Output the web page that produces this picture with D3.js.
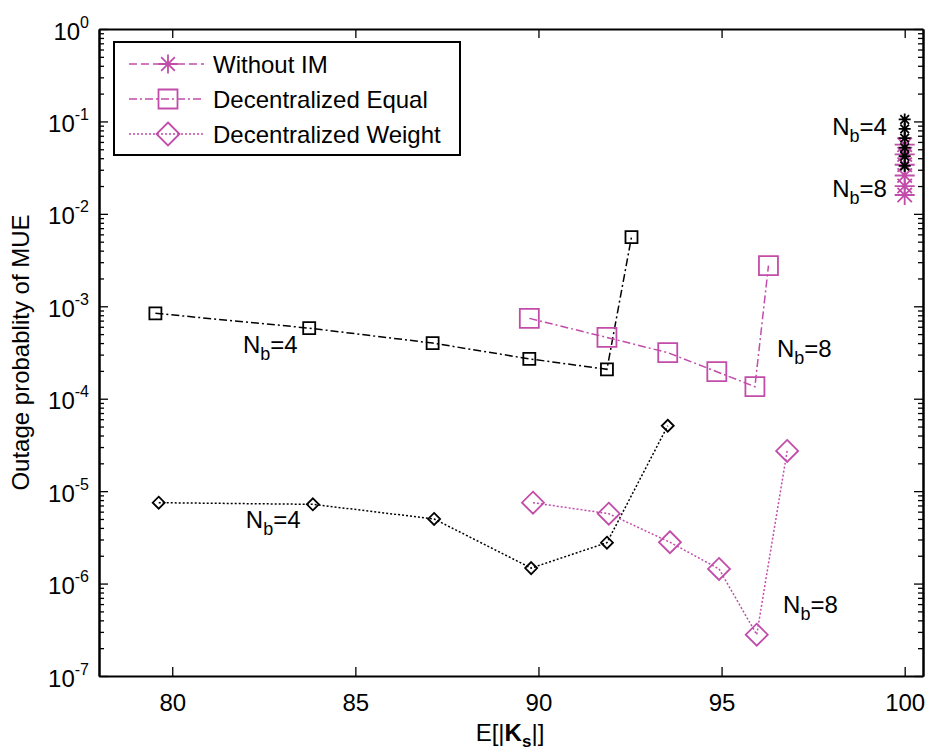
<!DOCTYPE html>
<html><head><meta charset="utf-8">
<script src="https://cdn.jsdelivr.net/npm/d3@7"></script>
<style>
body{margin:0;background:#fff;}
text{font-family:"Liberation Sans",Arial,sans-serif;}
</style></head>
<body><svg id="c" width="927" height="755"></svg>
<script>
// ---- data ----
const xTicks = [80, 85, 90, 95, 100];
const yExponents = [0, -1, -2, -3, -4, -5, -6, -7];
const seriesNames = ["Without IM", "Decentralized Equal", "Decentralized Weight"];

const equalNb4X = [79.54, 83.74, 87.11, 89.75, 91.87, 92.54];
const equalNb4Y = [8.4e-4, 5.8e-4, 4.0e-4, 2.7e-4, 2.08e-4, 5.6e-3];
const equalNb8X = [89.75, 91.87, 93.53, 94.87, 95.91, 96.28];
const equalNb8Y = [7.4e-4, 4.6e-4, 3.15e-4, 1.96e-4, 1.35e-4, 2.75e-3];

const weightNb4X = [79.63, 83.84, 87.15, 89.80, 91.87, 93.53];
const weightNb4Y = [7.5e-6, 7.2e-6, 5.0e-6, 1.47e-6, 2.77e-6, 5.1e-5];
const weightNb8X = [89.85, 91.92, 93.59, 94.93, 95.96, 96.79];
const weightNb8Y = [7.5e-6, 5.7e-6, 2.8e-6, 1.44e-6, 2.8e-7, 2.72e-5];

const noImNb4X = [100, 100, 100, 100, 100, 100];
const noImNb4Y = [0.105, 0.083, 0.066, 0.052, 0.042, 0.033];
const noImNb8X = [100, 100, 100, 100, 100, 100];
const noImNb8Y = [0.056, 0.044, 0.034, 0.026, 0.020, 0.016];

const annotations = [
  {nb: "4", x: 81.93, y: 3.1e-4},
  {nb: "8", x: 96.51, y: 2.83e-4},
  {nb: "4", x: 82.01, y: 4.0e-6},
  {nb: "8", x: 96.68, y: 4.8e-7},
  {nb: "4", x: 98.02, y: 0.0713},
  {nb: "8", x: 98.02, y: 0.0152}
];

// ---- layout ----
const MAG = "#c24ca9";
const L = 99, R = 923, T = 29, B = 676;
const svg = d3.select("#c");
const x = d3.scaleLinear().domain([78, 100.5]).range([L, R]);
const y = d3.scaleLog().domain([1e-7, 1]).range([B, T]);

const FS = 24;

// marker paths
function markerPath(type, s) {
  const h = s / 2;
  if (type === "square") return `M${-h},${-h}H${h}V${h}H${-h}Z`;
  if (type === "diamond") return `M0,${-h}L${h},0L0,${h}L${-h},0Z`;
  const d = h * 0.72;
  return `M${-h},0H${h}M0,${-h}V${h}M${-d},${-d}L${d},${d}M${-d},${d}L${d},${-d}`;
}

const dashes = {star: "8,4", square: "8,3,2,3", diamond: "2,2"};

function drawSeries(xs, ys, type, color, size) {
  const pts = xs.map((v, i) => [v, ys[i]]);
  const line = d3.line().x(d => x(d[0])).y(d => y(d[1]));
  svg.append("path").attr("d", line(pts)).attr("fill", "none")
    .attr("stroke", color).attr("stroke-width", 1.5)
    .attr("stroke-dasharray", dashes[type]);
  svg.selectAll(null).data(pts).enter().append("path")
    .attr("transform", d => `translate(${x(d[0])},${y(d[1])})`)
    .attr("d", markerPath(type, size))
    .attr("fill", "none").attr("stroke", color).attr("stroke-width", 1.8);
}

// ---- axes ----
const minorVals = [];
for (let e = -7; e < 0; e++) for (let m = 2; m <= 9; m++) minorVals.push(m * Math.pow(10, e));
const majorVals = yExponents.map(e => Math.pow(10, e));

function styleAxis(g) {
  g.selectAll("path.domain").attr("stroke", "#000").attr("stroke-width", 2);
  g.selectAll(".tick line").attr("stroke", "#000").attr("stroke-width", 1.3);
}

const gB = svg.append("g").attr("transform", `translate(0,${B})`)
  .call(d3.axisBottom(x).tickValues(xTicks).tickSizeInner(-9).tickSizeOuter(0).tickPadding(18).tickFormat(d3.format("d")));
styleAxis(gB);
gB.selectAll("text").attr("font-size", FS).attr("fill", "#000").attr("font-family", "Liberation Sans, Arial");
const gT = svg.append("g").attr("transform", `translate(0,${T})`)
  .call(d3.axisTop(x).tickValues(xTicks).tickSizeInner(-9).tickSizeOuter(0).tickFormat(""));
styleAxis(gT);
const gLm = svg.append("g").attr("transform", `translate(${L},0)`)
  .call(d3.axisLeft(y).tickValues(minorVals).tickSizeInner(-5).tickSizeOuter(0).tickFormat(""));
styleAxis(gLm);
const gL = svg.append("g").attr("transform", `translate(${L},0)`)
  .call(d3.axisLeft(y).tickValues(majorVals).tickSizeInner(-9).tickSizeOuter(0).tickPadding(22).tickFormat(""));
styleAxis(gL);
gL.selectAll(".tick text").each(function(d) {
  const t = d3.select(this).attr("font-size", FS).attr("fill", "#000")
    .attr("font-family", "Liberation Sans, Arial").attr("dy", "0.42em").attr("x", -10);
  t.text("10");
  t.append("tspan").attr("font-size", 16).attr("dy", "-0.75em").text(Math.round(Math.log10(d)));
});
const gRm = svg.append("g").attr("transform", `translate(${R},0)`)
  .call(d3.axisRight(y).tickValues(minorVals).tickSizeInner(-5).tickSizeOuter(0).tickFormat(""));
styleAxis(gRm);
const gR = svg.append("g").attr("transform", `translate(${R},0)`)
  .call(d3.axisRight(y).tickValues(majorVals).tickSizeInner(-9).tickSizeOuter(0).tickFormat(""));
styleAxis(gR);

// ---- series ----
drawSeries(equalNb4X, equalNb4Y, "square", "#000", 12);
drawSeries(equalNb8X, equalNb8Y, "square", MAG, 19);
drawSeries(weightNb4X, weightNb4Y, "diamond", "#000", 12);
drawSeries(weightNb8X, weightNb8Y, "diamond", MAG, 22);
drawSeries(noImNb8X, noImNb8Y, "star", MAG, 20);
drawSeries(noImNb4X, noImNb4Y, "star", "#000", 12);

// ---- annotations ----
annotations.forEach(a => {
  const t = svg.append("text").attr("x", x(a.x)).attr("y", y(a.y))
    .attr("font-size", FS).attr("fill", "#000");
  t.append("tspan").text("N");
  t.append("tspan").attr("font-size", 18).attr("dy", 7).text("b");
  t.append("tspan").attr("dy", -7).text("=" + a.nb);
});

// ---- axis labels ----
const xl = svg.append("text").attr("x", 510).attr("y", 741).attr("text-anchor", "middle")
  .attr("font-size", FS).attr("fill", "#000");
xl.append("tspan").text("E[|");
xl.append("tspan").attr("font-weight", "bold").text("K");
xl.append("tspan").attr("font-weight", "bold").attr("font-size", 17).attr("dy", 6).text("s");
xl.append("tspan").attr("dy", -6).text("|]");

svg.append("text").attr("transform", `translate(29,${(T + B) / 2}) rotate(-90)`)
  .attr("text-anchor", "middle").attr("font-size", FS).attr("fill", "#000")
  .text("Outage probablity of MUE");

// ---- legend ----
const lg = svg.append("g");
lg.append("rect").attr("x", 114).attr("y", 42).attr("width", 346).attr("height", 113)
  .attr("fill", "#fff").attr("stroke", "#000").attr("stroke-width", 2);
const legTypes = ["star", "square", "diamond"];
const legSizes = [19, 19, 23];
seriesNames.forEach((name, i) => {
  const cy = 64 + i * 35;
  lg.append("line").attr("x1", 129).attr("x2", 204).attr("y1", cy).attr("y2", cy)
    .attr("stroke", MAG).attr("stroke-width", 1.5).attr("stroke-dasharray", dashes[legTypes[i]]);
  lg.append("path").attr("transform", `translate(168,${cy})`).attr("d", markerPath(legTypes[i], legSizes[i]))
    .attr("fill", "none").attr("stroke", MAG).attr("stroke-width", 1.8);
  lg.append("text").attr("x", 213).attr("y", cy + 9).attr("font-size", FS).attr("fill", "#000").text(name);
});
</script></body></html>
